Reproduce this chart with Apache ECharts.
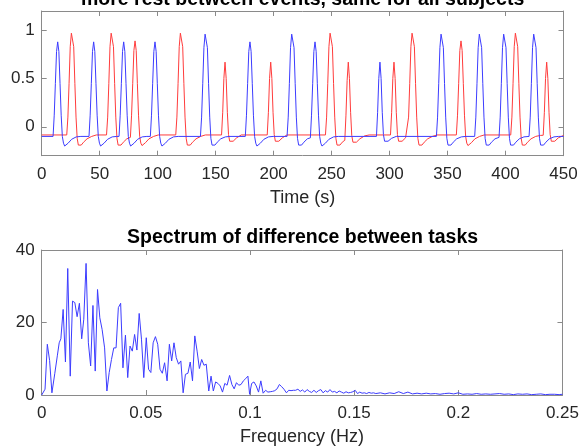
<!DOCTYPE html>
<html>
<head>
<meta charset="utf-8">
<script src="https://cdn.jsdelivr.net/npm/echarts@6/dist/echarts.min.js"></script>
<style>html,body{margin:0;padding:0;background:#fff}#c{width:582px;height:447px}</style>
</head>
<body>
<div id="c"></div>
<script>
// ---- Data ----
var topTitle = 'more rest between events, same for all subjects';
var bottomTitle = 'Spectrum of difference between tasks';
var timeName = 'Time (s)';
var freqName = 'Frequency (Hz)';
var responseTicks = [0, 0.5, 1];

// [time (s), response] for task 1 (blue)
var blueResponse = [
[0,-0.1],
[9.8,-0.1],[10.8,0.12],[11.8,0.45],[12.8,0.78],[13.8,0.88],[14.8,0.78],[15.8,0.45],[16.8,0.12],[17.8,-0.1],[18.8,-0.17],[19.8,-0.2],[20.8,-0.195],[22.8,-0.17],[25.8,-0.13],[29.8,-0.105],[33.8,-0.1],
[40.8,-0.1],[41.8,0.12],[42.8,0.45],[43.8,0.78],[44.8,0.88],[45.8,0.78],[46.8,0.45],[47.8,0.12],[48.8,-0.1],[49.8,-0.17],[50.8,-0.2],[51.8,-0.195],[53.8,-0.17],[56.8,-0.13],[60.8,-0.105],[64.8,-0.1],
[66.7,-0.1],[67.7,0.12],[68.7,0.45],[69.7,0.78],[70.7,0.88],[71.7,0.78],[72.7,0.45],[73.7,0.12],[74.7,-0.1],[75.7,-0.17],[76.7,-0.2],[77.7,-0.195],[79.7,-0.17],[82.7,-0.13],[86.7,-0.105],[90.7,-0.1],
[93.7,-0.1],[94.7,0.12],[95.7,0.45],[96.7,0.78],[97.7,0.88],[98.7,0.78],[99.7,0.45],[100.7,0.12],[101.7,-0.1],[102.7,-0.17],[103.7,-0.2],[104.7,-0.195],[106.7,-0.17],[109.7,-0.13],[113.7,-0.105],[117.7,-0.1],
[136.9,-0.1],[137.9,0.1],[138.9,0.45],[139.9,0.82],[140.9,0.96],[141.4,0.97],[141.9,0.96],[142.9,0.82],[143.9,0.45],[144.9,0.1],[145.9,-0.12],[146.9,-0.19],[147.9,-0.205],[149.4,-0.19],[151.4,-0.16],[154.4,-0.125],[158.4,-0.105],[162.4,-0.1],
[175.6,-0.1],[176.6,0.12],[177.6,0.45],[178.6,0.78],[179.6,0.88],[180.6,0.78],[181.6,0.45],[182.6,0.12],[183.6,-0.1],[184.6,-0.17],[185.6,-0.2],[186.6,-0.195],[188.6,-0.17],[191.6,-0.13],[195.6,-0.105],[199.6,-0.1],
[211.6,-0.1],[212.6,0.1],[213.6,0.45],[214.6,0.82],[215.6,0.96],[216.1,0.97],[216.6,0.96],[217.6,0.82],[218.6,0.45],[219.6,0.1],[220.6,-0.12],[221.6,-0.19],[222.6,-0.205],[224.1,-0.19],[226.1,-0.16],[229.1,-0.125],
[231.7,-0.115],[232.7,0.12],[233.7,0.45],[234.7,0.78],[235.7,0.88],[236.7,0.78],[237.7,0.45],[238.7,0.12],[239.7,-0.1],[240.7,-0.17],[241.7,-0.2],[242.7,-0.195],[244.7,-0.17],[247.7,-0.13],[251.7,-0.105],[255.7,-0.1],
[288.7,-0.1],[289.7,0.15],[290.7,0.5],[291.7,0.67],[292.7,0.5],[293.7,0.15],[294.7,-0.08],[295.7,-0.15],[296.7,-0.17],[298.7,-0.15],[301.7,-0.12],[305.7,-0.1],
[340.4,-0.1],[341.4,0.1],[342.4,0.45],[343.4,0.82],[344.4,0.96],[344.9,0.97],[345.4,0.96],[346.4,0.82],[347.4,0.45],[348.4,0.1],[349.4,-0.12],[350.4,-0.19],[351.4,-0.205],[352.9,-0.19],[354.9,-0.16],[357.9,-0.125],[361.9,-0.105],[365.9,-0.1],
[373.4,-0.1],[374.4,0.1],[375.4,0.45],[376.4,0.82],[377.4,0.96],[377.9,0.97],[378.4,0.96],[379.4,0.82],[380.4,0.45],[381.4,0.1],[382.4,-0.12],[383.4,-0.19],[384.4,-0.205],[385.9,-0.19],[387.9,-0.16],[390.9,-0.125],
[394.4,-0.11],[395.4,0.1],[396.4,0.45],[397.4,0.82],[398.4,0.96],[398.9,0.97],[399.4,0.96],[400.4,0.82],[401.4,0.45],[402.4,0.1],[403.4,-0.12],[404.4,-0.19],[405.4,-0.205],[406.9,-0.19],[408.9,-0.16],[411.9,-0.125],[415.9,-0.105],
[420.3,-0.1],[421.3,0.1],[422.3,0.45],[423.3,0.82],[424.3,0.96],[424.8,0.97],[425.3,0.96],[426.3,0.82],[427.3,0.45],[428.3,0.1],[429.3,-0.12],[430.3,-0.19],[431.3,-0.205],[432.8,-0.19],[434.8,-0.16],[437.8,-0.125],[441.8,-0.105],[445.8,-0.1],[450,-0.1]
];

// [time (s), response] for task 2 (red)
var redResponse = [
[0,-0.085],
[21.6,-0.085],[22.6,0.1],[23.6,0.45],[24.6,0.83],[25.6,0.97],[26.1,0.98],[26.6,0.97],[27.6,0.83],[28.6,0.45],[29.6,0.1],[30.6,-0.12],[31.6,-0.19],[32.6,-0.205],[34.1,-0.19],[36.1,-0.16],[39.1,-0.125],[43.1,-0.1],[47.1,-0.085],
[55.9,-0.085],[56.9,0.1],[57.9,0.45],[58.9,0.83],[59.9,0.97],[60.4,0.98],[60.9,0.97],[61.9,0.83],[62.9,0.45],[63.9,0.1],[64.9,-0.12],[65.9,-0.19],[66.9,-0.205],[68.4,-0.19],[70.4,-0.16],[73.4,-0.125],
[76.5,-0.11],[77.5,0.12],[78.5,0.45],[79.5,0.79],[80.5,0.89],[81.5,0.79],[82.5,0.45],[83.5,0.12],[84.5,-0.1],[85.5,-0.17],[86.5,-0.195],[87.5,-0.19],[89.5,-0.165],[92.5,-0.125],[96.5,-0.1],[100.5,-0.085],
[115.6,-0.085],[116.6,0.1],[117.6,0.45],[118.6,0.83],[119.6,0.97],[120.1,0.98],[120.6,0.97],[121.6,0.83],[122.6,0.45],[123.6,0.1],[124.6,-0.12],[125.6,-0.19],[126.6,-0.205],[128.1,-0.19],[130.1,-0.16],[133.1,-0.125],[137.1,-0.1],[141.1,-0.085],
[155.1,-0.085],[156.1,0.15],[157.1,0.5],[158.1,0.67],[159.1,0.5],[160.1,0.15],[161.1,-0.08],[162.1,-0.15],[163.1,-0.165],[165.1,-0.15],[168.1,-0.115],[172.1,-0.085],
[194.5,-0.085],[195.5,0.15],[196.5,0.5],[197.5,0.67],[198.5,0.5],[199.5,0.15],[200.5,-0.08],[201.5,-0.15],[202.5,-0.165],[204.5,-0.15],[207.5,-0.115],[211.5,-0.085],
[244.7,-0.085],[245.7,0.1],[246.7,0.45],[247.7,0.83],[248.7,0.97],[249.2,0.98],[249.7,0.97],[250.7,0.83],[251.7,0.45],[252.7,0.1],[253.7,-0.12],[254.7,-0.19],[255.7,-0.205],[257.2,-0.19],[259.2,-0.16],
[261.4,-0.14],[262.4,0.12],[263.4,0.48],[264.4,0.67],[265.4,0.5],[266.4,0.15],[267.4,-0.09],[268.4,-0.16],[269.4,-0.175],[271.4,-0.16],[274.4,-0.125],[278.4,-0.095],[282.4,-0.085],
[300.8,-0.085],[301.8,0.15],[302.8,0.5],[303.8,0.67],[304.8,0.5],[305.8,0.15],[306.8,-0.08],[307.8,-0.15],[308.8,-0.165],[310.8,-0.15],[313.8,-0.115],
[315.4,-0.1],[316.4,0.1],[317.4,0.45],[318.4,0.83],[319.4,0.97],[319.9,0.98],[320.4,0.97],[321.4,0.83],[322.4,0.45],[323.4,0.1],[324.4,-0.12],[325.4,-0.19],[326.4,-0.205],[327.9,-0.19],[329.9,-0.16],[332.9,-0.125],[336.9,-0.1],[340.9,-0.085],
[357.6,-0.085],[358.6,0.12],[359.6,0.45],[360.6,0.79],[361.6,0.89],[362.6,0.79],[363.6,0.45],[364.6,0.12],[365.6,-0.1],[366.6,-0.17],[367.6,-0.195],[368.6,-0.19],[370.6,-0.165],[373.6,-0.125],[377.6,-0.1],[381.6,-0.085],
[404.5,-0.085],[405.5,0.1],[406.5,0.45],[407.5,0.83],[408.5,0.97],[409,0.98],[409.5,0.97],[410.5,0.83],[411.5,0.45],[412.5,0.1],[413.5,-0.12],[414.5,-0.19],[415.5,-0.205],[417,-0.19],[419,-0.16],[422,-0.125],[426,-0.1],[430,-0.09],
[432.5,-0.088],[433.5,0.15],[434.5,0.5],[435.5,0.67],[436.5,0.5],[437.5,0.15],[438.5,-0.08],[439.5,-0.15],[440.5,-0.165],[442.5,-0.15],[445.5,-0.115],[450,-0.09]
];

// [frequency (Hz), amplitude] spectrum of the difference
var spectrum = [
[0,0],[0.0016,1.6],[0.0027,14],[0.0038,9.5],[0.0049,0.6],[0.0063,6],[0.0075,10.8],[0.0084,14.4],[0.0092,15.5],[0.0103,23.6],[0.0114,9.1],[0.0125,34.9],[0.0137,5.2],[0.0148,25.9],[0.0159,25.5],[0.017,21.6],[0.0181,25.3],[0.0192,15.5],[0.0202,20.9],[0.0213,36.3],[0.0224,14.4],[0.0235,8],[0.0246,24.7],[0.0257,6.6],[0.0268,29.1],[0.0279,21.3],[0.029,18.1],[0.0302,13],[0.0313,1.1],[0.0324,6.2],[0.0335,9.8],[0.0346,13],[0.0357,13],[0.0368,24.1],[0.0379,25.3],[0.039,7.5],[0.0402,16.5],[0.0413,4.8],[0.0424,13.5],[0.0435,12.1],[0.0446,16.7],[0.0457,12.4],[0.0468,22.5],[0.0479,15.4],[0.049,4.8],[0.0502,15.8],[0.0513,7.1],[0.0524,6.2],[0.0535,14.4],[0.0546,16.1],[0.0557,14],[0.0568,7.1],[0.0579,6],[0.059,8.9],[0.0602,3.9],[0.0613,14],[0.0624,9.4],[0.0635,14.4],[0.0646,10.3],[0.0657,8.5],[0.0668,9.4],[0.0679,0.6],[0.069,5.7],[0.0702,6],[0.0713,9.1],[0.0724,3.9],[0.0735,16.3],[0.0746,12.1],[0.0757,7.3],[0.0768,9.8],[0.0779,8.2],[0.079,8.5],[0.0802,1.1],[0.0813,5.2],[0.0824,1.1],[0.0835,3.6],[0.0846,3.2],[0.0857,2.5],[0.0868,0.8],[0.0879,3.2],[0.089,2.7],[0.0902,5.4],[0.0913,2.9],[0.0924,1.7],[0.0935,3.4],[0.0946,2.7],[0.0957,2.9],[0.0968,3.9],[0.0979,4.5],[0.099,5.2],[0.0998,0.2],[0.1008,3.2],[0.1019,3.6],[0.103,2.5],[0.1041,0.8],[0.1052,3.9],[0.1063,0.5],[0.1075,1.3],[0.1086,0.8],[0.1097,0.9],[0.1108,1.0],[0.1119,1.2],[0.113,1.7],[0.1141,2.9],[0.1152,2.3],[0.1163,1.6],[0.1175,0.6],[0.1186,1.3],[0.1197,1.2],[0.1208,1.3],[0.1219,1.3],
[0.123,1.6],[0.1241,1.0],[0.1252,1.4],[0.1263,0.8],[0.1274,1.5],[0.1285,1.0],[0.1296,0.7],[0.1307,1.3],[0.1318,0.7],[0.1329,1.2],[0.134,1.5],[0.1351,0.6],[0.1362,1.2],[0.1373,0.8],[0.1384,1.5],[0.1395,0.8],[0.1406,1.0],[0.1417,0.6],[0.1428,1.1],[0.1439,0.8],[0.145,0.5],[0.1461,0.9],[0.1472,0.6],[0.1483,0.7],[0.1494,0.9],[0.1505,1.3],[0.1516,0.4],[0.1527,0.8],[0.1538,0.5],[0.1549,0.6],[0.156,0.4],[0.1571,0.7],[0.1582,0.5],[0.1593,0.6],[0.1604,0.4],
[0.1626,0.6],[0.1648,0.3],[0.167,0.6],[0.1692,0.4],[0.1714,0.9],[0.1736,0.4],[0.1758,0.8],[0.178,0.3],[0.1802,0.5],[0.1824,0.3],[0.1846,0.5],[0.1868,0.3],[0.189,0.4],[0.1912,0.2],[0.1934,0.4],[0.1956,0.5],[0.1978,0.3],[0.2,0.6],[0.2022,0.2],[0.2044,0.3],[0.2066,0.2],[0.2088,0.4],[0.211,0.2],[0.2132,0.3],[0.2154,0.2],[0.2176,0.3],[0.2198,0.4],[0.222,0.2],[0.2242,0.3],[0.2264,0.1],[0.2286,0.3],[0.2308,0.2],[0.233,0.3],[0.2352,0.1],[0.2374,0.2],[0.2396,0.3],[0.2418,0.1],[0.244,0.2],[0.2462,0.2],[0.2484,0.1],[0.25,0.2]
];

// ---- Styling ----
var FONT = 'Liberation Sans, Arial, Helvetica, sans-serif';
var AXIS_COLOR = '#8a8a8a';
var LABEL_COLOR = '#262626';
var BLUE = '#3c3cff';
var RED = '#ff3c3c';

function axisBase(extra) {
  var o = {
    axisLine: { show: true, onZero: false, lineStyle: { color: AXIS_COLOR, width: 1 } },
    axisTick: { show: true, inside: true, length: 5, lineStyle: { color: AXIS_COLOR, width: 1 } },
    splitLine: { show: false },
    axisLabel: { color: LABEL_COLOR, fontSize: 17, fontFamily: FONT },
    nameTextStyle: { color: LABEL_COLOR, fontSize: 18, fontFamily: FONT }
  };
  for (var k in extra) {
    if (typeof extra[k] === 'object' && o[k] && !Array.isArray(extra[k])) {
      for (var j in extra[k]) o[k][j] = extra[k][j];
    } else o[k] = extra[k];
  }
  return o;
}

var chart = echarts.init(document.getElementById('c'), null, { renderer: 'canvas' });
chart.setOption({
  animation: false,
  backgroundColor: '#fff',
  title: [
    { text: topTitle, left: 302.6, top: -10.5, padding: 0, textAlign: 'center',
      textStyle: { fontSize: 19.5, fontWeight: 'bold', color: '#000', fontFamily: FONT } },
    { text: bottomTitle, left: 302.6, top: 227.5, padding: 0, textAlign: 'center',
      textStyle: { fontSize: 19.5, fontWeight: 'bold', color: '#000', fontFamily: FONT } }
  ],
  grid: [
    { left: 41.7, right: 18.5, top: 11, height: 144.7 },
    { left: 41.7, right: 18.5, top: 250, height: 145.7 }
  ],
  xAxis: [
    axisBase({ gridIndex: 0, type: 'value', position: 'bottom', min: 0, max: 450, interval: 50,
      name: timeName, nameLocation: 'middle', nameGap: 33, axisLabel: { margin: 10 } }),
    axisBase({ gridIndex: 0, type: 'value', position: 'top', min: 0, max: 450, interval: 50,
      axisLabel: { show: false } }),
    axisBase({ gridIndex: 1, type: 'value', position: 'bottom', min: 0, max: 0.25, interval: 0.05,
      name: freqName, nameLocation: 'middle', nameGap: 33, axisLabel: { margin: 10 } }),
    axisBase({ gridIndex: 1, type: 'value', position: 'top', min: 0, max: 0.25, interval: 0.05,
      axisLabel: { show: false } })
  ],
  yAxis: [
    axisBase({ gridIndex: 0, type: 'value', position: 'left', min: -0.3, max: 1.2,
      axisLabel: { margin: 7, customValues: responseTicks },
      axisTick: { customValues: responseTicks } }),
    axisBase({ gridIndex: 0, type: 'value', position: 'right', min: -0.3, max: 1.2,
      axisLabel: { show: false, customValues: responseTicks },
      axisTick: { customValues: responseTicks } }),
    axisBase({ gridIndex: 1, type: 'value', position: 'left', min: 0, max: 40, interval: 20,
      axisLabel: { margin: 7 } }),
    axisBase({ gridIndex: 1, type: 'value', position: 'right', min: 0, max: 40, interval: 20,
      axisLabel: { show: false } })
  ],
  series: [
    { type: 'line', name: 'task 1', xAxisIndex: 0, yAxisIndex: 0, data: blueResponse,
      showSymbol: false, lineStyle: { color: BLUE, width: 1 }, itemStyle: { color: BLUE }, z: 3 },
    { type: 'line', name: 'task 2', xAxisIndex: 0, yAxisIndex: 0, data: redResponse,
      showSymbol: false, lineStyle: { color: RED, width: 1 }, itemStyle: { color: RED }, z: 2 },
    { type: 'line', name: 'spectrum', xAxisIndex: 2, yAxisIndex: 2, data: spectrum,
      showSymbol: false, lineStyle: { color: BLUE, width: 1 }, itemStyle: { color: BLUE } }
  ]
});
</script>
</body>
</html>
